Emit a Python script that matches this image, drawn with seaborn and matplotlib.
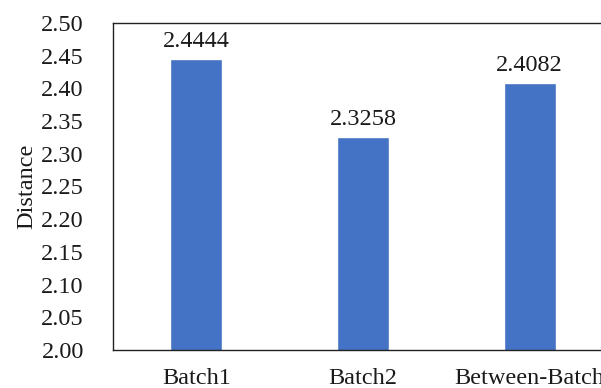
import matplotlib
matplotlib.use("Agg")
import matplotlib.pyplot as plt
import seaborn as sns
import pandas as pd

categories = ["Batch1", "Batch2", "Between-Batch"]
distances = [2.4444, 2.3258, 2.4082]
y_ticks = [2.00, 2.05, 2.10, 2.15, 2.20, 2.25, 2.30, 2.35, 2.40, 2.45, 2.50]

sns.set_theme(style="white")
plt.rcParams["font.family"] = ["Liberation Serif", "DejaVu Serif"]

df = pd.DataFrame({"group": categories, "distance": distances})

fig = plt.figure(figsize=(6.01, 3.88), dpi=100)
ax = fig.add_axes([0.188, 0.098, 0.832, 0.843])

sns.barplot(data=df, x="group", y="distance", color="#4472C4",
            width=0.31, saturation=1, ax=ax)

ax.set_ylim(2.0, 2.5)
ax.set_yticks(y_ticks)
ax.set_yticklabels([f"{t:.2f}" for t in y_ticks])
ax.set_xlim(-0.5, 2.5)

for i, v in enumerate(distances):
    ax.text(i, v + 0.011, f"{v:.4f}", ha="center", va="bottom",
            fontsize=17.5, color="#1a1a1a")

ax.set_xlabel("")
ax.set_ylabel("Distance", fontsize=17.5, color="#1a1a1a", labelpad=2.5)
ax.tick_params(axis="y", labelsize=17.5, length=0, pad=21, colors="#1a1a1a")
ax.tick_params(axis="x", labelsize=17.5, length=0, pad=13, colors="#1a1a1a")

for side in ["top", "left", "bottom"]:
    ax.spines[side].set_visible(True)
    ax.spines[side].set_color("#222222")
    ax.spines[side].set_linewidth(1.0)
ax.spines["right"].set_visible(False)

fig.savefig("out.png", dpi=100)
